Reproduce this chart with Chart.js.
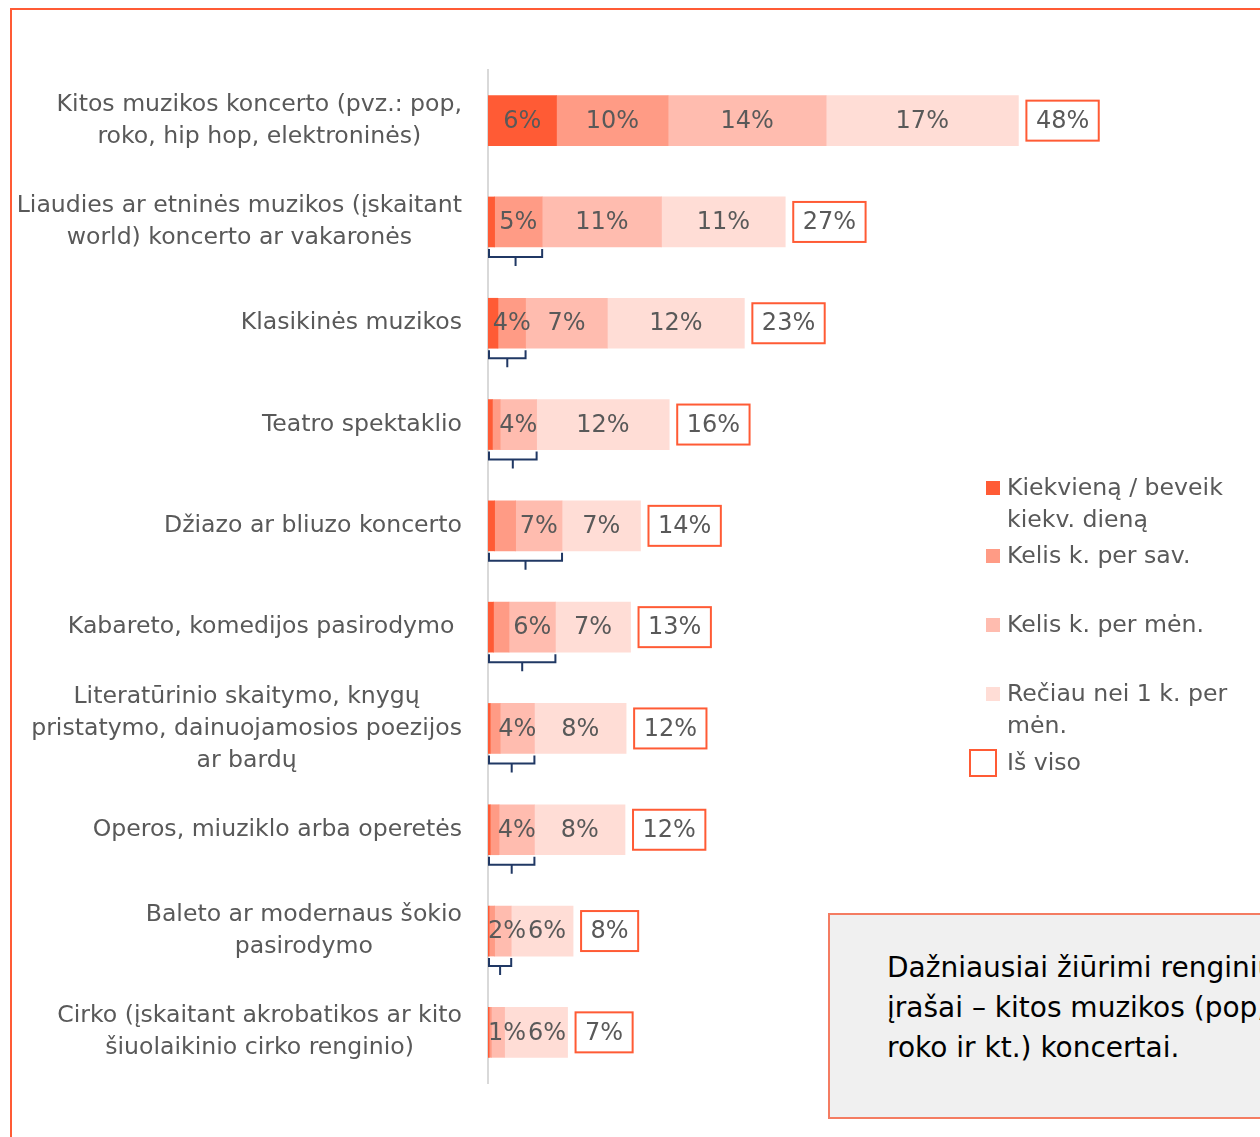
<!DOCTYPE html>
<html>
<head>
<meta charset="utf-8">
<script src="https://cdn.jsdelivr.net/npm/chart.js@4.4.1/dist/chart.umd.min.js"></script>
<style>
html,body{margin:0;padding:0;width:1260px;height:1137px;overflow:hidden;background:#fff;}
#wrap{position:absolute;left:0;top:0;width:1260px;height:1137px;}
#frame{position:absolute;left:10px;top:8px;width:1400px;height:1300px;border:2px solid #FF5B35;box-sizing:border-box;pointer-events:none;}
#note{position:absolute;left:828px;top:913px;width:600px;height:206px;background:#F0F0F0;border:2px solid #F47C62;box-sizing:border-box;padding:33px 0 0 57px;font-family:"DejaVu Sans",sans-serif;font-size:28px;line-height:40px;color:#000;white-space:nowrap;}
</style>
</head>
<body>
<div id="wrap"><canvas id="c" width="1260" height="1137"></canvas></div>
<div id="frame"></div>
<div id="note">Dažniausiai žiūrimi renginių<br>įrašai – kitos muzikos (pop,<br>roko ir kt.) koncertai.</div>
<script>
// ---- data ----
const categories = [
  ['Kitos muzikos koncerto (pvz.: pop,', 'roko, hip hop, elektroninės)'],
  ['Liaudies ar etninės muzikos (įskaitant', 'world) koncerto ar vakaronės'],
  ['Klasikinės muzikos'],
  ['Teatro spektaklio'],
  ['Džiazo ar bliuzo koncerto'],
  ['Kabareto, komedijos pasirodymo '],
  ['Literatūrinio skaitymo, knygų', 'pristatymo, dainuojamosios poezijos', 'ar bardų'],
  ['Operos, miuziklo arba operetės'],
  ['Baleto ar modernaus šokio', 'pasirodymo'],
  ['Cirko (įskaitant akrobatikos ar kito', 'šiuolaikinio cirko renginio)']
];
const seriesNames = ['Kiekvieną / beveik kiekv. dieną', 'Kelis k. per sav.', 'Kelis k. per mėn.', 'Rečiau nei 1 k. per mėn.'];
const daily   = [6.2, 0.6, 0.9, 0.4, 0.6, 0.5, 0.2, 0.2, 0.1, 0.1];
const weekly  = [10.1, 4.3, 2.5, 0.7, 1.9, 1.4, 0.9, 0.8, 0.5, 0.2];
const monthly = [14.3, 10.8, 7.4, 3.3, 4.2, 4.2, 3.1, 3.2, 1.5, 1.2];
const rarely  = [17.4, 11.2, 12.4, 12.0, 7.1, 6.8, 8.3, 8.2, 5.6, 5.7];
const labelsDaily   = ['6%', '', '', '', '', '', '', '', '', ''];
const labelsWeekly  = ['10%', '5%', '4%', '', '', '', '', '', '', ''];
const labelsMonthly = ['14%', '11%', '7%', '4%', '7%', '6%', '4%', '4%', '2%', '1%'];
const labelsRarely  = ['17%', '11%', '12%', '12%', '7%', '7%', '8%', '8%', '6%', '6%'];
const totals = ['48%', '27%', '23%', '16%', '14%', '13%', '12%', '12%', '8%', '7%'];
const bracketSegments = [0, 2, 2, 3, 3, 3, 3, 3, 3, 0];
const totalLegend = 'Iš viso';

// ---- styles ----
const colors = ['#FF5B35', '#FF9B85', '#FFBCAF', '#FFDDD6'];
const FONT = '"DejaVu Sans", sans-serif';
const TEXT = '#595959';

const seriesValues = [daily, weekly, monthly, rarely];
const seriesLabels = [labelsDaily, labelsWeekly, labelsMonthly, labelsRarely];

const overlay = {
  id: 'overlay',
  afterDraw(chart) {
    const ctx = chart.ctx;
    const x = chart.scales.x, y = chart.scales.y;
    const x0 = x.getPixelForValue(0);
    ctx.save();
    ctx.textBaseline = 'middle';
    ctx.font = '23.6px ' + FONT;
    ctx.fillStyle = TEXT;
    // category labels: block right-aligned, lines centered
    categories.forEach((lines, i) => {
      const cy = y.getPixelForValue(i);
      const w = Math.max(...lines.map(l => ctx.measureText(l).width));
      const cx = y.right - 26 - w / 2;
      ctx.textAlign = 'center';
      lines.forEach((l, j) => ctx.fillText(l, cx, cy + (j - (lines.length - 1) / 2) * 32));
    });
    ctx.font = '24px ' + FONT;
    // segment labels
    for (let i = 0; i < categories.length; i++) {
      const cy = y.getPixelForValue(i);
      let cum = 0, prevRight = -Infinity;
      for (let s = 0; s < seriesValues.length; s++) {
        const v = seriesValues[s][i];
        const a = x.getPixelForValue(cum), b = x.getPixelForValue(cum + v);
        cum += v;
        const t = seriesLabels[s][i];
        if (!t) continue;
        const tw = ctx.measureText(t).width;
        let left = (a + b) / 2 - tw / 2;
        if (left < x0) left = x0;
        if (left < prevRight + 2) left = prevRight + 2;
        ctx.textAlign = 'left';
        ctx.fillStyle = TEXT;
        ctx.fillText(t, left, cy + 1);
        prevRight = left + tw;
      }
      // total box
      const end = x.getPixelForValue(cum);
      const t = totals[i];
      const tw = ctx.measureText(t).width;
      const bw = tw + 19, bx = end + 8;
      ctx.strokeStyle = '#FF5B35';
      ctx.lineWidth = 2;
      ctx.strokeRect(bx, cy - 20, bw, 40);
      ctx.textAlign = 'center';
      ctx.fillText(t, bx + bw / 2, cy + 1);
      // bracket
      const n = bracketSegments[i];
      if (n > 0) {
        let c = 0;
        for (let s = 0; s < n; s++) c += seriesValues[s][i];
        const bxs = x0 + 1, bxe = x.getPixelForValue(c);
        const bot = cy + 25;
        ctx.strokeStyle = '#203864';
        ctx.lineWidth = 2;
        ctx.beginPath();
        ctx.moveTo(bxs, bot + 2); ctx.lineTo(bxs, bot + 10); ctx.lineTo(bxe, bot + 10); ctx.lineTo(bxe, bot + 2);
        const mid = (bxs + bxe) / 2;
        ctx.moveTo(mid, bot + 10); ctx.lineTo(mid, bot + 19);
        ctx.stroke();
      }
    }
    // legend
    ctx.font = '23.6px ' + FONT;
    const legendRows = [
      { color: colors[0], lines: ['Kiekvieną / beveik', 'kiekv. dieną'], y: 488 },
      { color: colors[1], lines: ['Kelis k. per sav.'], y: 556 },
      { color: colors[2], lines: ['Kelis k. per mėn.'], y: 625 },
      { color: colors[3], lines: ['Rečiau nei 1 k. per', 'mėn.'], y: 694 }
    ];
    ctx.textAlign = 'left';
    legendRows.forEach(r => {
      ctx.fillStyle = r.color;
      ctx.fillRect(986, r.y - 7, 14, 14);
      ctx.fillStyle = TEXT;
      r.lines.forEach((l, j) => ctx.fillText(l, 1007, r.y + 1 + j * 32));
    });
    ctx.strokeStyle = '#FF5B35';
    ctx.lineWidth = 2;
    ctx.strokeRect(970, 750, 26, 26);
    ctx.fillStyle = TEXT;
    ctx.fillText(totalLegend, 1007, 764);
    ctx.restore();
  }
};

new Chart(document.getElementById('c'), {
  type: 'bar',
  data: {
    labels: categories.map(c => c.join(' ')),
    datasets: seriesValues.map((vals, k) => ({
      label: seriesNames[k],
      data: vals,
      backgroundColor: colors[k],
      borderWidth: 0,
      barThickness: 50
    }))
  },
  options: {
    indexAxis: 'y',
    responsive: false,
    animation: false,
    layout: { padding: { top: 70, bottom: 54, left: 0, right: 109 } },
    scales: {
      x: { stacked: true, display: false, min: 0, max: 60 },
      y: {
        stacked: true,
        grid: { display: false, drawTicks: false },
        border: { display: true, color: '#D9D9D9', width: 2 },
        ticks: { display: false },
        afterFit: s => { s.width = 488; }
      }
    },
    plugins: { legend: { display: false }, tooltip: { enabled: false } }
  },
  plugins: [overlay]
});
</script>
</body>
</html>
